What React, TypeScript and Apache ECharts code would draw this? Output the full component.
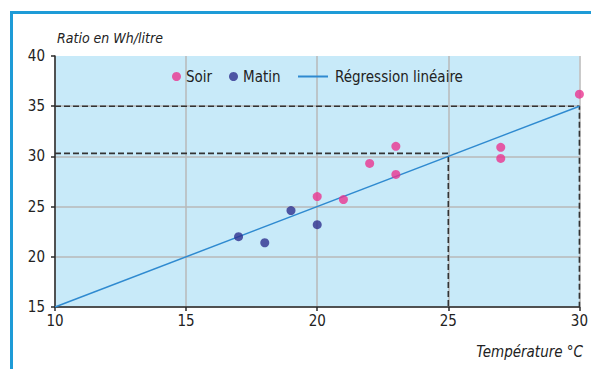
import React, { useEffect, useRef } from "react";
import * as echarts from "echarts";

// Evening / morning measurements: [temperature °C, ratio Wh/litre]
const soir: [number, number][] = [
  [20, 26.0],
  [21, 25.7],
  [22, 29.3],
  [23, 31.0],
  [23, 28.2],
  [27, 30.9],
  [27, 29.8],
  [30, 36.2],
];
const matin: [number, number][] = [
  [17, 22.0],
  [18, 21.4],
  [19, 24.6],
  [20, 23.2],
];
// Linear regression end points
const regression: [number, number][] = [
  [10, 15],
  [30, 35],
];
// Reading guides (dashed)
const guide35: [number, number][] = [
  [10, 35],
  [30, 35],
  [30, 15],
];
const guide30: [number, number][] = [
  [10, 30.3],
  [25, 30.3],
  [25, 15],
];
const xTicks = { min: 10, max: 30, step: 5 };
const yTicks = { min: 15, max: 40, step: 5 };

const FONT = "'Liberation Sans Narrow', 'DejaVu Sans Condensed', 'Liberation Sans', sans-serif";
const PINK = "#ea3590";
const NAVY = "#2e2f8e";
const LINE = "#2f8ad0";
const FRAME = "#1e9bd7";

export default function App() {
  const ref = useRef<HTMLDivElement>(null);

  useEffect(() => {
    if (!ref.current) return;
    const chart = echarts.init(ref.current, undefined, { renderer: "svg" });
    const legendBase = {
      orient: "horizontal" as const,
      top: 64,
      itemHeight: 9,
      textStyle: { fontFamily: FONT, fontSize: 15, color: "#222" },
      selectedMode: false,
    };
    chart.setOption({
      animation: false,
      backgroundColor: "#ffffff",
      grid: {
        left: 55,
        right: 10,
        top: 56,
        bottom: 62,
        show: true,
        backgroundColor: "#c8eaf9",
        borderWidth: 0,
      },
      legend: [
        { ...legendBase, left: 167, itemWidth: 9, data: ["Soir"] },
        { ...legendBase, left: 224, itemWidth: 9, data: ["Matin"] },
        {
          ...legendBase,
          left: 293,
          itemWidth: 30,
          itemHeight: 2,
          icon: "rect",
          data: ["Régression linéaire"],
          textStyle: { ...legendBase.textStyle, padding: [0, 0, 0, 2] },
        },
      ],
      xAxis: {
        type: "value",
        min: xTicks.min,
        max: xTicks.max,
        interval: xTicks.step,
        axisLine: { show: true, lineStyle: { color: "#2a2a2a", width: 1.5 } },
        axisTick: { show: true, length: 4, lineStyle: { color: "#2a2a2a", width: 1.5 } },
        axisLabel: { fontFamily: FONT, fontSize: 15, color: "#222", margin: 6 },
        splitLine: { show: true, lineStyle: { color: "#b9b9b9", width: 1.5 } },
      },
      yAxis: {
        type: "value",
        min: yTicks.min,
        max: yTicks.max,
        interval: yTicks.step,
        axisLine: { show: true, lineStyle: { color: "#2a2a2a", width: 1.5 } },
        axisTick: { show: true, length: 4, lineStyle: { color: "#2a2a2a", width: 1.5 } },
        axisLabel: { fontFamily: FONT, fontSize: 15, color: "#222", margin: 10 },
        splitLine: { show: true, showMaxLine: false, lineStyle: { color: "#b9b9b9", width: 1.5 } },
      },
      series: [
        {
          type: "line",
          data: guide35,
          symbol: "none",
          silent: true,
          lineStyle: { color: "#333", width: 1.6, type: [6, 3] },
          z: 2,
        },
        {
          type: "line",
          data: guide30,
          symbol: "none",
          silent: true,
          lineStyle: { color: "#333", width: 1.6, type: [6, 3] },
          z: 2,
        },
        {
          name: "Régression linéaire",
          type: "line",
          data: regression,
          symbol: "none",
          lineStyle: { color: LINE, width: 1.5 },
          itemStyle: { color: LINE },
          z: 3,
        },
        {
          name: "Soir",
          type: "scatter",
          data: soir,
          symbol: "circle",
          symbolSize: 9,
          itemStyle: { color: PINK },
          z: 4,
        },
        {
          name: "Matin",
          type: "scatter",
          data: matin,
          symbol: "circle",
          symbolSize: 9,
          itemStyle: { color: NAVY },
          z: 4,
        },
      ],
      graphic: [
        {
          type: "rect",
          shape: { x: 10, y: 11, width: 581, height: 3 },
          style: { fill: FRAME },
          silent: true,
        },
        {
          type: "rect",
          shape: { x: 10, y: 11, width: 3, height: 358 },
          style: { fill: FRAME },
          silent: true,
        },
        {
          type: "text",
          left: 57,
          top: 31,
          style: {
            text: "Ratio en Wh/litre",
            fontFamily: FONT,
            fontStyle: "italic",
            fontSize: 14,
            fill: "#222",
          },
        },
        {
          type: "text",
          right: 8,
          top: 344,
          style: {
            text: "Température °C",
            fontFamily: FONT,
            fontStyle: "italic",
            fontSize: 15,
            fill: "#222",
          },
        },
      ],
    });
    return () => chart.dispose();
  }, []);

  return (
    <div
      ref={ref}
      style={{ position: "fixed", left: 0, top: 0, width: 591, height: 369 }}
    />
  );
}
